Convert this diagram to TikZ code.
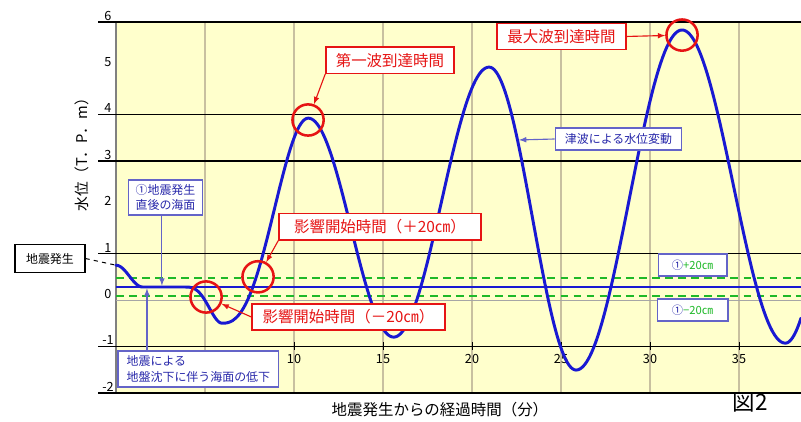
\documentclass[tikz,border=0pt]{standalone}
\usepackage{fontspec}
\newfontfamily\jpfont{Noto Sans CJK JP}
\usepackage{tikz}
\usetikzlibrary{positioning}

\definecolor{paper}{RGB}{255,255,204}
\definecolor{tred}{RGB}{230,20,20}
\definecolor{tblue}{RGB}{25,25,210}
\definecolor{boxblue}{RGB}{40,40,170}
\definecolor{boxline}{RGB}{100,100,200}
\definecolor{tgreen}{RGB}{30,185,40}
\definecolor{vgrid}{RGB}{200,192,160}

\begin{document}
\begin{tikzpicture}[x=0.445cm,y=1.16cm,font=\jpfont,>=latex,
    redbox/.style={draw=tred,fill=white,line width=1pt,text=tred,inner sep=2pt,
      minimum height=0.66cm,font=\jpfont\fontsize{11}{13}\selectfont},
    bluebox/.style={draw=boxline,fill=white,line width=0.8pt,text=boxblue,align=left,inner sep=3pt,
      font=\jpfont\fontsize{8.5}{11}\selectfont},
    ring/.style={circle,draw=tred,line width=1.8pt,minimum size=0.78cm,inner sep=0pt},
    wave/.style={tblue,line width=2.1pt,line cap=round,line join=round},
    redarrow/.style={->,tred,line width=0.8pt},
    bluearrow/.style={->,boxline,line width=0.8pt},
    ticklabel/.style={font=\jpfont\fontsize{9}{10}\selectfont,inner sep=0pt}]
  \useasboundingbox (-6.517,-2.608) rectangle (38.483,6.466);

  % plot area
  \fill [paper] (0,-2) rectangle (38.483,6);
  \foreach \t in {5,10,...,35}
    \draw [vgrid,line width=0.8pt] (\t,-2) -- (\t,6);
  \draw [gray,line width=0.8pt] (0,-2) -- (0,6);
  \draw [gray!70,line width=0.6pt] (0,0) -- (38.483,0);
  \foreach \v/\w in {6/1.5pt,4/0.7pt,3/1.4pt,1/0.7pt,-1/1.3pt,-2/1.5pt}
    \draw [line width=\w] (-1,\v) -- (38.483,\v);

  % axis numbers
  \foreach \v [count=\i] in {6,5,...,-2}
    \node [ticklabel] (ynum\i) at (-0.45,\v+0.13) {\v};
  \foreach \t [count=\i] in {10,15,...,35} {
    \draw [line width=0.7pt] (\t,-1.08) -- (\t,-0.9);
    \node [ticklabel] (xnum\i) at (\t,-1.28) {\t};
  }
  \node [rotate=90,font=\jpfont\fontsize{10.5}{12}\selectfont] (ylab) at (-1.91,3.21) {水位（T．P．m）};
  \node [font=\jpfont\fontsize{11}{13}\selectfont] (xlab) at (18.2,-2.37) {地震発生からの経過時間（分）};
  \node [font=\jpfont\fontsize{16}{18}\selectfont] (fig) at (35.62,-2.2) {図2};

  % sea level and +-20cm
  \draw [tgreen,line width=1.4pt,dash pattern=on 5.5pt off 3.8pt] (0,0.48) -- (38.483,0.48);
  \draw [tgreen,line width=1.4pt,dash pattern=on 5.5pt off 3.8pt] (0,0.08) -- (38.483,0.08);
  \draw [tblue,line width=1.4pt] (0,0.28) -- (38.483,0.28);

  % tsunami curve, half cosines between turning points
  \draw [wave] plot [domain=0:1.5,samples=20] (\x,{0.75-0.47*(1-cos(120*\x))/2})
    -- (3.9,0.28)
    -- plot [domain=3.905:5.96,samples=30] (\x,{0.28-0.78*(1-cos(180*((\x-3.9)/2.06)^1.4))/2})
    -- plot [domain=5.965:10.8,samples=50] (\x,{-0.5+4.42*(1-cos(180*((\x-5.96)/4.84)^1.25))/2})
    -- plot [domain=10.8:15.6,samples=50] (\x,{3.92-4.72*(1-cos(180*(\x-10.8)/4.8))/2})
    -- plot [domain=15.6:20.96,samples=50] (\x,{-0.8+5.82*(1-cos(180*(\x-15.6)/5.36))/2})
    -- plot [domain=20.96:25.85,samples=50] (\x,{5.02-6.53*(1-cos(180*(\x-20.96)/4.89))/2})
    -- plot [domain=25.85:31.8,samples=50] (\x,{-1.51+7.33*(1-cos(180*(\x-25.85)/5.95))/2})
    -- plot [domain=31.8:37.6,samples=50] (\x,{5.82-6.75*(1-cos(180*(\x-31.8)/5.8))/2})
    -- plot [domain=37.6:38.483,samples=12] (\x,{-0.93+6.93*(1-cos(180*(\x-37.6)/4.9))/2});
  \coordinate (start) at (0,0.75);
  \coordinate (wavept) at (22.64,3.45);
  \coordinate (lvla) at (2.58,0.31);
  \coordinate (lvlb) at (1.74,0.25);

  % rings
  \node [ring] (first) at (10.79,3.88) {};
  \node [ring] (maxw) at (31.8,5.71) {};
  \node [ring] (plus) at (7.98,0.5) {};
  \node [ring] (minus) at (5.06,0.065) {};

  % red labels
  \node [redbox,minimum width=3.2cm] (bfirst) at (15.39,5.17) {第一波到達時間};
  \node [redbox,minimum width=3.22cm] (bmax) at (25.03,5.68) {最大波到達時間};
  \node [redbox,minimum width=5.05cm] (bplus) at (14.83,1.58) {影響開始時間（＋20㎝）};
  \node [redbox,minimum width=4.82cm] (bminus) at (13.06,-0.366) {影響開始時間（－20㎝）};
  \draw [redarrow] (bfirst.south west) -- (first);
  \draw [redarrow] (bmax.east) -- (maxw);
  \draw [redarrow] (bplus.south west) -- (plus);
  \draw [redarrow] (bminus.west) -- (minus);

  % blue labels
  \node [bluebox,minimum width=3.17cm,minimum height=0.55cm,align=center] (bwave) at (28.23,3.47) {津波による水位変動};
  \draw [bluearrow] (bwave.west) -- (wavept);
  \node [bluebox,minimum width=1.87cm,minimum height=0.87cm] (bnow) at (2.78,2.21) {①地震発生\\直後の海面};
  \draw [bluearrow] (lvla |- bnow.south) -- (lvla);
  \node [bluebox,minimum width=4.02cm,minimum height=0.9cm] (bsink) at (4.63,-1.487) {地震による\\地盤沈下に伴う海面の低下};
  \draw [bluearrow] (lvlb |- bsink.north) -- (lvlb);
  \node [bluebox,minimum width=1.72cm,minimum height=0.55cm,font=\jpfont\fontsize{8}{10}\selectfont] (bup) at (32.39,0.754) {①\textcolor{tgreen}{+20㎝}};
  \node [bluebox,minimum width=1.77cm,minimum height=0.55cm,font=\jpfont\fontsize{8}{10}\selectfont] (bdown) at (32.39,-0.216) {①\textcolor{tgreen}{−20㎝}};

  % earthquake
  \node [draw,fill=white,line width=0.8pt,minimum width=1.75cm,minimum height=0.68cm,
    font=\jpfont\fontsize{8.5}{10}\selectfont] (quake) at (-3.71,0.894) {地震発生};
  \draw [dashed,line width=0.7pt] (quake.east) -- (start);
\end{tikzpicture}
\end{document}
